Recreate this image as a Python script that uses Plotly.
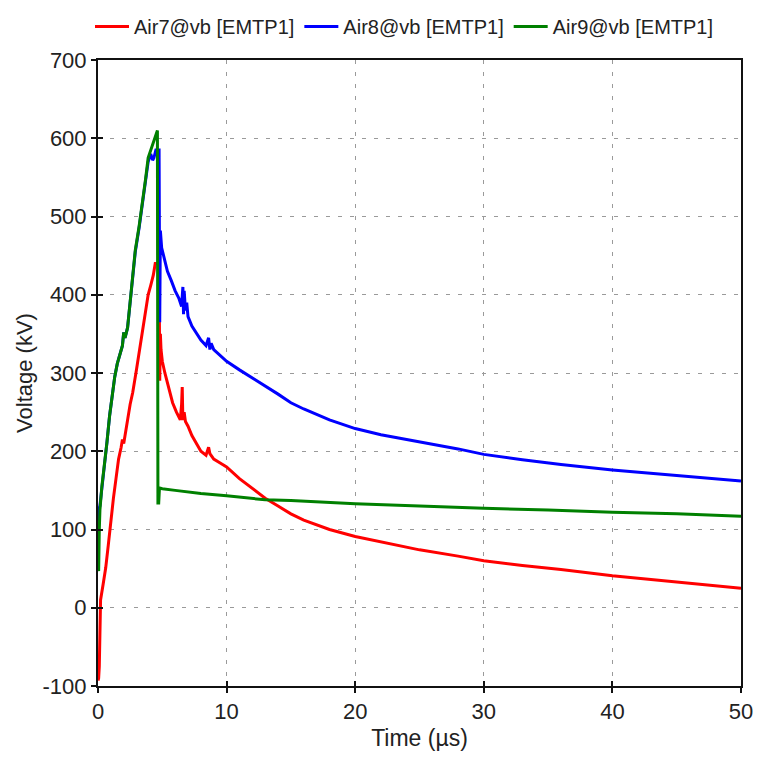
import plotly.graph_objects as go

# ---- data ----
t_air7 = [0, 0.05, 0.1, 0.15, 0.2, 0.4, 0.6, 0.8, 1.0, 1.2, 1.4, 1.6, 1.8, 1.9, 2.0, 2.1,
          2.3, 2.5, 2.7, 3.0, 3.3, 3.6, 3.9, 4.1, 4.3, 4.45, 4.6, 4.75, 4.8, 4.85, 4.9, 5.0,
          5.2, 5.5, 5.8, 6.1, 6.4, 6.5, 6.55, 6.6, 6.7, 6.8, 7.0, 7.3, 7.6, 8.0, 8.4, 8.6,
          8.7, 8.8, 9.0, 9.5, 10, 11, 12, 13, 14, 15, 16, 18, 20, 22, 25, 28, 30, 33, 36,
          40, 45, 50]
v_air7 = [-93, -90, -75, -20, 10, 30, 51, 80, 115, 140, 165, 190, 205, 215, 210, 222,
          240, 260, 275, 305, 335, 370, 400, 412, 425, 440, 440, 440, 290, 350, 330, 315,
          300, 280, 262, 250, 240, 260, 282, 240, 250, 238, 232, 220, 212, 200, 195, 205,
          197, 195, 190, 185, 180, 165, 152, 140, 130, 120, 112, 100, 91, 84, 74, 66, 60,
          54, 49, 41, 33, 25]

t_air8 = [0, 0.05, 0.15, 0.3, 0.5, 0.7, 0.9, 1.1, 1.3, 1.5, 1.7, 1.9, 2.0, 2.1, 2.3, 2.5,
          2.7, 2.9, 3.2, 3.5, 3.7, 3.9, 4.1, 4.25, 4.35, 4.5, 4.6, 4.75, 4.8, 4.85, 4.95,
          5.1, 5.4, 5.7, 6.0, 6.3, 6.5, 6.6, 6.65, 6.7, 6.8, 6.9, 7.0, 7.3, 7.7, 8.0, 8.4,
          8.6, 8.7, 8.8, 9.0, 9.5, 10, 11, 12, 13, 14, 15, 16, 18, 20, 22, 25, 28, 30, 33,
          36, 40, 45, 50]
v_air8 = [110, 125, 130, 155, 182, 212, 245, 270, 295, 312, 322, 335, 352, 345, 358, 390,
          430, 455, 486, 520, 545, 570, 580, 572, 575, 585, 585, 585, 365, 482, 460,
          450, 430, 418, 405, 395, 385, 410, 375, 405, 380, 390, 372, 360, 350, 342, 335,
          345, 330, 338, 330, 322, 315, 304, 294, 283, 273, 262, 254, 240, 229, 221, 212,
          203, 196, 189, 183, 176, 169, 162]

t_air9 = [0, 0.05, 0.1, 0.15, 0.3, 0.5, 0.7, 0.9, 1.1, 1.3, 1.5, 1.7, 1.9, 2.0, 2.1, 2.3,
          2.5, 2.7, 2.9, 3.2, 3.5, 3.7, 3.9, 4.1, 4.25, 4.4, 4.55, 4.62, 4.66, 4.72, 4.78,
          5.0, 6.0, 7.0, 8.0, 10, 12, 13, 15, 20, 25, 30, 35, 40, 45, 50]
v_air9 = [50, 47, 100, 125, 155, 182, 212, 245, 270, 295, 312, 322, 335, 352, 345, 358,
          392, 432, 457, 488, 522, 548, 575, 585, 592, 600, 605, 610, 134, 134, 153,
          152, 150, 148, 146, 143, 140, 138, 137, 133, 130, 127, 125, 122, 120, 117]

series = [
    ("Air7@vb [EMTP1]", t_air7, v_air7, "#ff0000"),
    ("Air8@vb [EMTP1]", t_air8, v_air8, "#0000ff"),
    ("Air9@vb [EMTP1]", t_air9, v_air9, "#008000"),
]

x_ticks = [0, 10, 20, 30, 40, 50]
x_labels = ["0", "10", "20", "30", "40", "50"]
y_ticks = [-100, 0, 100, 200, 300, 400, 500, 600, 700]
y_labels = ["-100", "0", "100", "200", "300", "400", "500", "600", "700"]

FONT = "Liberation Sans, Arial, sans-serif"

fig = go.Figure()
for name, t, v, c in series:
    fig.add_trace(go.Scatter(x=t, y=v, mode="lines", name=name,
                             line=dict(color=c, width=3)))

# dummy trace on overlay axes to draw inward ticks (crossing tick marks)
fig.add_trace(go.Scatter(x=[None], y=[None], xaxis="x2", yaxis="y2",
                         showlegend=False, hoverinfo="skip"))

axis_common = dict(showline=True, linecolor="#111111", linewidth=2, mirror=True,
                   ticks="outside", ticklen=5, tickwidth=1.5, tickcolor="#111111",
                   showgrid=True, gridcolor="#9a9a9a", gridwidth=1,
                   griddash="4px,8px", zeroline=False, automargin=False,
                   tickfont=dict(family=FONT, size=22, color="#222222"))

fig.update_layout(
    width=757, height=758,
    margin=dict(l=98, r=16, t=60, b=72, autoexpand=False),
    paper_bgcolor="white", plot_bgcolor="white",
    font=dict(family=FONT, size=20, color="#222222"),
    xaxis=dict(range=[0, 50], tickvals=x_ticks, ticktext=x_labels,
               title=dict(text="Time (µs)", standoff=6,
                          font=dict(family=FONT, size=23)),
               **axis_common),
    yaxis=dict(range=[-100, 700], tickvals=y_ticks, ticktext=y_labels,
               title=dict(text="Voltage (kV)", standoff=4,
                          font=dict(family=FONT, size=22)),
               **axis_common),
    xaxis2=dict(range=[0, 50], tickvals=x_ticks, overlaying="x", side="bottom",
                ticks="inside", ticklen=5, tickwidth=1.5, tickcolor="#111111",
                showticklabels=False, showgrid=False, zeroline=False, showline=False),
    yaxis2=dict(range=[-100, 700], tickvals=y_ticks, overlaying="y", side="left",
                ticks="inside", ticklen=5, tickwidth=1.5, tickcolor="#111111",
                showticklabels=False, showgrid=False, zeroline=False, showline=False),
    legend=dict(orientation="h", xref="container", x=90 / 757, xanchor="left",
                yref="container", y=1 - 7 / 758, yanchor="top",
                font=dict(family=FONT, size=20), itemwidth=34,
                bgcolor="rgba(0,0,0,0)"),
    showlegend=True,
)

fig.write_html("out.html")
